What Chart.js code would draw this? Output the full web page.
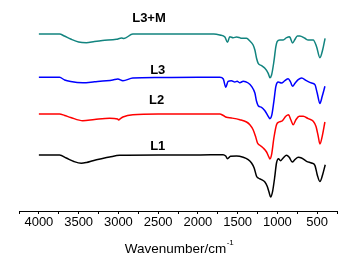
<!DOCTYPE html>
<html>
<head>
<meta charset="utf-8">
<script src="https://cdn.jsdelivr.net/npm/chart.js@4"></script>
<style>
  html, body { margin: 0; padding: 0; background: #fff; }
  #wrap { width: 352px; height: 263px; }
</style>
</head>
<body>
<div id="wrap"><canvas id="ftirChart"></canvas></div>
<script>
// wavenumbers (cm-1) and stacked transmittance values (arbitrary units)
const seriesNames = ['L1', 'L2', 'L3', 'L3+M'];
const colors = ['#000000', '#ff0000', '#0000ff', '#12847f'];

const wnL3M = [4000, 3740, 3680, 3600, 3500, 3403, 3300, 3200, 3025, 2960, 2930, 2818, 2500, 2000, 1800, 1724, 1660, 1628, 1598, 1556, 1514, 1480, 1451, 1388, 1346, 1305, 1283, 1262, 1241, 1199, 1157, 1115, 1094, 1073, 1044, 1019, 1003, 969, 927, 885, 851, 840, 809, 780, 749, 717, 654, 612, 549, 507, 465, 431, 400];
const tL3M = [177, 177, 175, 172, 169, 168.3, 169.5, 170.5, 171.7, 173, 172.5, 177, 177, 177, 177, 176, 174, 168.7, 174.3, 173.3, 174, 173.5, 172.7, 172.7, 170, 166, 161, 152.7, 147.7, 145.3, 142.7, 137.7, 133.3, 136, 149.3, 164.3, 169.3, 171, 171, 173.3, 174.3, 173.5, 168, 171.5, 175, 175, 172.7, 171, 171, 164.3, 153.3, 161, 172.7];

const wnL3 = [4000, 3740, 3676, 3600, 3448, 3300, 3150, 3070, 3007, 2943, 2818, 2500, 2000, 1724, 1680, 1649, 1620, 1578, 1535, 1506, 1472, 1430, 1367, 1325, 1283, 1262, 1241, 1199, 1157, 1115, 1094, 1069, 1044, 1019, 990, 948, 906, 864, 834, 809, 776, 738, 696, 633, 570, 528, 499, 465, 436, 402];
const tL3 = [133.7, 133.7, 131, 129.5, 128.3, 129.2, 130.2, 131, 132, 130.3, 133, 133.5, 133.7, 133.7, 132, 123.7, 129.7, 130.3, 129, 129.7, 128.3, 129.7, 128, 124.7, 118, 109.7, 105.3, 103.7, 100.3, 94.7, 92.3, 96.3, 109.7, 124.7, 129, 128, 130.3, 132.3, 129, 124.7, 128, 131.3, 133, 130.3, 128, 126.3, 118, 107.5, 114.7, 124.7];

const wnL2 = [4000, 3740, 3676, 3600, 3448, 3300, 3110, 3010, 2997, 2970, 2943, 2818, 2500, 2000, 1724, 1680, 1640, 1578, 1472, 1388, 1346, 1305, 1275, 1250, 1220, 1178, 1136, 1107, 1094, 1073, 1044, 1011, 978, 936, 894, 860, 831, 801, 767, 725, 675, 612, 549, 515, 486, 465, 436, 402];
const tL2 = [97, 97, 95.5, 93.5, 90.3, 91.5, 92.7, 92, 91, 92.7, 94, 96.3, 97, 97, 97, 95.5, 93.7, 93, 91.3, 89, 86.3, 81.3, 74.7, 68, 65.7, 63, 59, 54, 52, 56.3, 73, 86.3, 89, 90.3, 94.7, 96.3, 91.3, 86.3, 91.3, 94.7, 94.7, 92.3, 89.7, 84.7, 74.7, 67, 74.7, 89];

const wnL1 = [4000, 3740, 3655, 3560, 3466, 3400, 3320, 3200, 3110, 2984, 2500, 2000, 1683, 1650, 1628, 1590, 1514, 1430, 1367, 1325, 1292, 1262, 1241, 1199, 1157, 1128, 1102, 1085, 1060, 1035, 1011, 986, 961, 927, 885, 851, 813, 780, 738, 696, 633, 570, 528, 499, 465, 431, 398];
const tL1 = [56, 56, 53, 49.5, 47.7, 48.5, 50.3, 52.5, 54, 55.7, 56, 56, 56.3, 55, 52.3, 54.7, 55, 53.7, 51.3, 48, 43, 34.7, 33, 31.3, 29, 24.7, 18, 14, 19.7, 33, 48, 52.3, 50.3, 53, 55.7, 53.7, 49, 51.3, 53.7, 53, 49.7, 48, 45.7, 36.3, 29.5, 36.3, 46.3];

// label anchor points (wavenumber, value)
const labelWn = [2505, 2518, 2505, 2615];
const labelT = [65, 110.5, 141, 193];

const wnList = [wnL1, wnL2, wnL3, wnL3M];
const tList = [tL1, tL2, tL3, tL3M];

const toPoints = (xs, ys) => xs.map((x, i) => ({ x: x, y: ys[i] }));

const labelPlugin = {
  id: 'curveLabels',
  afterDatasetsDraw(chart) {
    const ctx = chart.ctx;
    const xs = chart.scales.x, ys = chart.scales.y;
    ctx.save();
    ctx.fillStyle = '#000';
    ctx.font = 'bold 13px "Liberation Sans", Arial, sans-serif';
    ctx.textAlign = 'center';
    ctx.textBaseline = 'middle';
    seriesNames.forEach((n, i) => {
      ctx.fillText(n, xs.getPixelForValue(labelWn[i]), ys.getPixelForValue(labelT[i]));
    });
    // axis title with superscript
    ctx.font = '13.5px "Liberation Sans", Arial, sans-serif';
    ctx.textAlign = 'left';
    const main = 'Wavenumber/cm';
    const w = ctx.measureText(main).width;
    ctx.font = '8px "Liberation Sans", Arial, sans-serif';
    const sw = ctx.measureText('-1').width;
    const x0 = (xs.left + xs.right) / 2 - (w + sw) / 2 + 1;
    const y0 = 249;
    ctx.font = '13.5px "Liberation Sans", Arial, sans-serif';
    ctx.fillText(main, x0, y0);
    ctx.font = '8px "Liberation Sans", Arial, sans-serif';
    ctx.fillText('-1', x0 + w + 0.5, y0 - 6);
    ctx.restore();
  }
};

new Chart(document.getElementById('ftirChart'), {
  type: 'line',
  data: {
    datasets: seriesNames.map((n, i) => ({
      label: n,
      data: toPoints(wnList[i], tList[i]),
      borderColor: colors[i],
      borderWidth: 1.5,
      pointRadius: 0,
      fill: false,
      cubicInterpolationMode: 'monotone'
    }))
  },
  options: {
    responsive: true,
    maintainAspectRatio: false,
    animation: false,
    layout: { padding: { left: 19, right: 15, top: 11, bottom: 0 } },
    plugins: {
      legend: { display: false },
      tooltip: { enabled: false }
    },
    scales: {
      x: {
        type: 'linear',
        reverse: true,
        min: 250,
        max: 4250,
        afterFit: (s) => { s.height = 52; },
        border: { display: true, color: '#000', width: 1 },
        grid: { drawOnChartArea: false, tickLength: 3, tickColor: '#000', tickWidth: 1 },
        ticks: {
          stepSize: 250,
          autoSkip: false,
          maxRotation: 0,
          padding: 1,
          color: '#000',
          font: { family: '"Liberation Sans", Arial, sans-serif', size: 13 },
          callback: (v) => (v % 500 === 0 && v >= 500 && v <= 4000) ? String(v) : ''
        }
      },
      y: {
        display: false,
        min: 0,
        max: 200
      }
    }
  },
  plugins: [labelPlugin]
});
</script>
</body>
</html>
